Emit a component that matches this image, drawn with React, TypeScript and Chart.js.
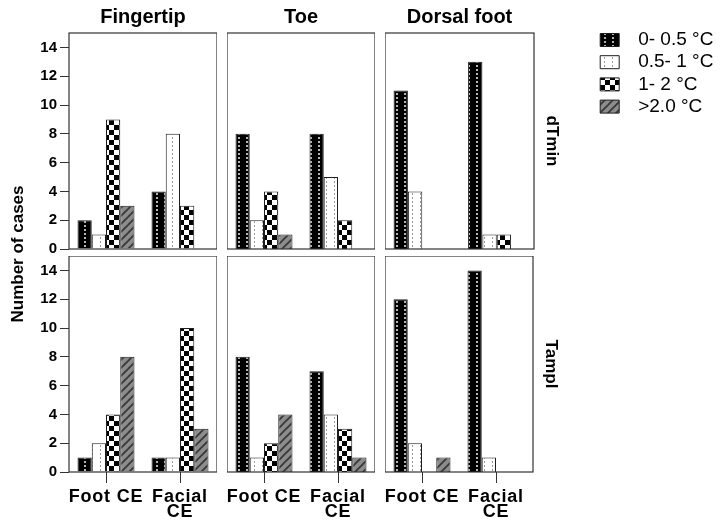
import React, { useEffect, useRef } from 'react';
import { Chart, registerables } from 'chart.js';

Chart.register(...registerables);

const FONT = "'Liberation Sans', Arial, Helvetica, sans-serif";

// Axis categories, panel headers and legend entries
const categories: (string | string[])[] = ['Foot CE', ['Facial', 'CE']];
const sites = ['Fingertip', 'Toe', 'Dorsal foot'];
const measures = ['dTmin', 'Tampl'];
const ranges = ['0- 0.5 °C', '0.5- 1 °C', '1- 2 °C', '>2.0 °C'];
const yTicks = [0, 2, 4, 6, 8, 10, 12, 14];

// Number of cases per temperature range: [Foot CE, Facial CE]
const dTminFingertip = [[2, 4], [1, 8], [9, 3], [3, 0]];
const dTminToe = [[8, 8], [2, 5], [4, 2], [1, 0]];
const dTminDorsal = [[11, 13], [4, 1], [0, 1], [0, 0]];
const tamplFingertip = [[1, 1], [2, 1], [4, 10], [8, 3]];
const tamplToe = [[8, 7], [1, 4], [2, 3], [4, 1]];
const tamplDorsal = [[12, 14], [2, 1], [0, 0], [1, 0]];

const counts = [
  [dTminFingertip, dTminToe, dTminDorsal],
  [tamplFingertip, tamplToe, tamplDorsal],
];

// panel geometry (chart areas) in page pixels
const COL_LEFT = [69, 227, 385];
const PANEL_W = 148;
const Y_AXIS_W = 60;
const STRIP_W = 63;

function canvasRect(row: number, col: number) {
  const x = COL_LEFT[col] - (col === 0 ? Y_AXIS_W : 0);
  const y = row === 0 ? 0 : 256;
  const h = row === 0 ? 256 : 266;
  let w = PANEL_W + (col === 0 ? Y_AXIS_W : 0);
  if (col === 2) w = row === 0 ? 722 - x : PANEL_W + STRIP_W;
  return { x, y, w, h };
}

let patternCache: CanvasPattern[] | null = null;

function makeTile(w: number, h: number, paint: (g: CanvasRenderingContext2D) => void) {
  const c = document.createElement('canvas');
  c.width = w;
  c.height = h;
  const g = c.getContext('2d')!;
  paint(g);
  return g.createPattern(c, 'repeat')!;
}

function getPatterns() {
  if (patternCache) return patternCache;
  const dark = makeTile(8, 4, (g) => {
    g.fillStyle = '#000';
    g.fillRect(0, 0, 8, 4);
    g.fillStyle = '#b4b4b4';
    g.fillRect(3, 1, 2, 2);
  });
  const light = makeTile(8, 4, (g) => {
    g.fillStyle = '#fff';
    g.fillRect(0, 0, 8, 4);
    g.fillStyle = '#9a9a9a';
    g.fillRect(3, 1, 1, 2);
  });
  const checker = makeTile(10, 10, (g) => {
    g.fillStyle = '#fff';
    g.fillRect(0, 0, 10, 10);
    g.fillStyle = '#000';
    g.fillRect(0, 0, 5, 5);
    g.fillRect(5, 5, 5, 5);
  });
  const hatch = makeTile(8, 8, (g) => {
    g.fillStyle = '#8c8c8c';
    g.fillRect(0, 0, 8, 8);
    g.strokeStyle = '#353535';
    g.lineWidth = 1.6;
    g.beginPath();
    g.moveTo(-1, 9);
    g.lineTo(9, -1);
    g.moveTo(-1, 1);
    g.lineTo(1, -1);
    g.moveTo(7, 9);
    g.lineTo(9, 7);
    g.stroke();
  });
  patternCache = [dark, light, checker, hatch];
  return patternCache;
}

const framePlugin = {
  id: 'panelFrame',
  afterDraw(chart: Chart) {
    const { ctx, chartArea: a } = chart;
    ctx.save();
    ctx.strokeStyle = '#333';
    ctx.lineWidth = 1.2;
    ctx.strokeRect(a.left, a.top, a.right - a.left, a.bottom - a.top);
    ctx.restore();
  },
};

// category labels are drawn slightly letter-spaced
const spacedLabelsPlugin = {
  id: 'spacedCategoryLabels',
  afterLayout(chart: Chart) {
    const xs: any = chart.scales.x;
    if (!xs || xs._spaced) return;
    const orig = xs.drawLabels;
    xs.drawLabels = function (area: any) {
      const c: any = this.ctx;
      const prev = c.letterSpacing;
      c.letterSpacing = '0.8px';
      orig.call(this, area);
      c.letterSpacing = prev || '0px';
    };
    xs._spaced = true;
  },
};

function buildConfig(row: number, col: number): any {
  const first = col === 0;
  const last = col === 2;
  const top = row === 0;
  const bottom = row === 1;
  const values = counts[row][col];
  const patterns = getPatterns();

  return {
    type: 'bar',
    data: {
      labels: categories,
      datasets: ranges.map((label, i) => ({
        label,
        data: values[i],
        backgroundColor: patterns[i],
        borderColor: '#1e1e1e',
        borderWidth: 1,
        categoryPercentage: 0.77,
        barPercentage: 1,
      })),
    },
    options: {
      animation: false,
      responsive: false,
      maintainAspectRatio: false,
      events: [],
      layout: { padding: 0 },
      plugins: {
        tooltip: { enabled: false },
        legend:
          top && last
            ? {
                display: true,
                position: 'right',
                align: 'start',
                fullSize: true,
                weight: 3000,
                maxWidth: 125,
                title: {
                  display: true,
                  text: '',
                  font: { size: 10, lineHeight: '12px' },
                  padding: { top: 15.3, bottom: 0 },
                },
                labels: {
                  boxWidth: 19,
                  boxHeight: 13,
                  padding: 3.2,
                  color: '#000',
                  font: { family: FONT, size: 19 },
                  generateLabels: (chart: Chart) =>
                    Chart.defaults.plugins.legend.labels
                      .generateLabels(chart)
                      .map((item: any) => ({ ...item, text: '\u2002' + item.text })),
                },
              }
            : { display: false },
        title: top
          ? {
              display: true,
              text: sites[col],
              position: 'top',
              fullSize: false,
              color: '#000',
              font: { family: FONT, size: 20, weight: 'bold', lineHeight: '24px' },
              padding: { top: 5.5, bottom: 3.5 },
            }
          : { display: false },
        subtitle: last
          ? {
              display: true,
              text: measures[row],
              position: 'right',
              fullSize: false,
              color: '#000',
              font: { family: FONT, size: 17, weight: 'bold', lineHeight: '20px' },
              padding: { top: 35, bottom: 8 },
            }
          : { display: false },
      },
      scales: {
        x: {
          type: 'category',
          offset: true,
          display: true,
          grid: {
            display: bottom,
            offset: false,
            drawOnChartArea: false,
            drawTicks: true,
            tickLength: 11,
            color: '#333',
            lineWidth: 1,
          },
          border: { display: false },
          ticks: {
            display: bottom,
            color: '#000',
            font: { family: FONT, size: 18, weight: 'bold', lineHeight: '15px' },
            padding: 7,
            maxRotation: 0,
            minRotation: 0,
            autoSkip: false,
          },
          afterFit: (s: any) => {
            s.height = bottom ? 50 : 7;
            s.paddingLeft = 0;
            s.paddingRight = 0;
            s.paddingTop = 0;
            s.paddingBottom = 0;
          },
        },
        y: {
          type: 'linear',
          min: 0,
          max: 15,
          display: first,
          afterBuildTicks: (s: any) => {
            s.ticks = yTicks.map((v) => ({ value: v }));
          },
          grid: {
            drawOnChartArea: false,
            drawTicks: true,
            tickLength: 9,
            color: '#333',
            lineWidth: 1,
          },
          border: { display: false },
          ticks: {
            color: '#000',
            font: { family: FONT, size: 15, weight: 'bold' },
            padding: 3,
          },
          afterFit: (s: any) => {
            if (first) s.width = Y_AXIS_W;
            s.paddingTop = 0;
            s.paddingBottom = 0;
            s.paddingLeft = 0;
            s.paddingRight = 0;
          },
        },
      },
    },
    plugins: bottom ? [framePlugin, spacedLabelsPlugin] : [framePlugin],
  };
}

function Panel({ row, col }: { row: number; col: number }) {
  const ref = useRef<HTMLCanvasElement | null>(null);
  const r = canvasRect(row, col);
  useEffect(() => {
    const chart = new Chart(ref.current!, buildConfig(row, col));
    return () => chart.destroy();
  }, [row, col]);
  return (
    <canvas
      ref={ref}
      width={r.w}
      height={r.h}
      style={{ position: 'absolute', left: r.x, top: r.y, width: r.w, height: r.h }}
    />
  );
}

export default function App() {
  return (
    <div
      style={{
        position: 'fixed',
        left: 0,
        top: 0,
        width: 722,
        height: 522,
        background: '#fff',
        overflow: 'hidden',
      }}
    >
      {[0, 1].map((row) =>
        [0, 1, 2].map((col) => <Panel key={`${row}-${col}`} row={row} col={col} />)
      )}
      <div
        style={{
          position: 'absolute',
          left: 18 - 100,
          top: 254 - 10,
          width: 200,
          height: 20,
          lineHeight: '20px',
          textAlign: 'center',
          transform: 'rotate(-90deg)',
          fontFamily: FONT,
          fontWeight: 'bold',
          fontSize: 17,
          color: '#000',
          whiteSpace: 'nowrap',
        }}
      >
        Number of cases
      </div>
    </div>
  );
}
